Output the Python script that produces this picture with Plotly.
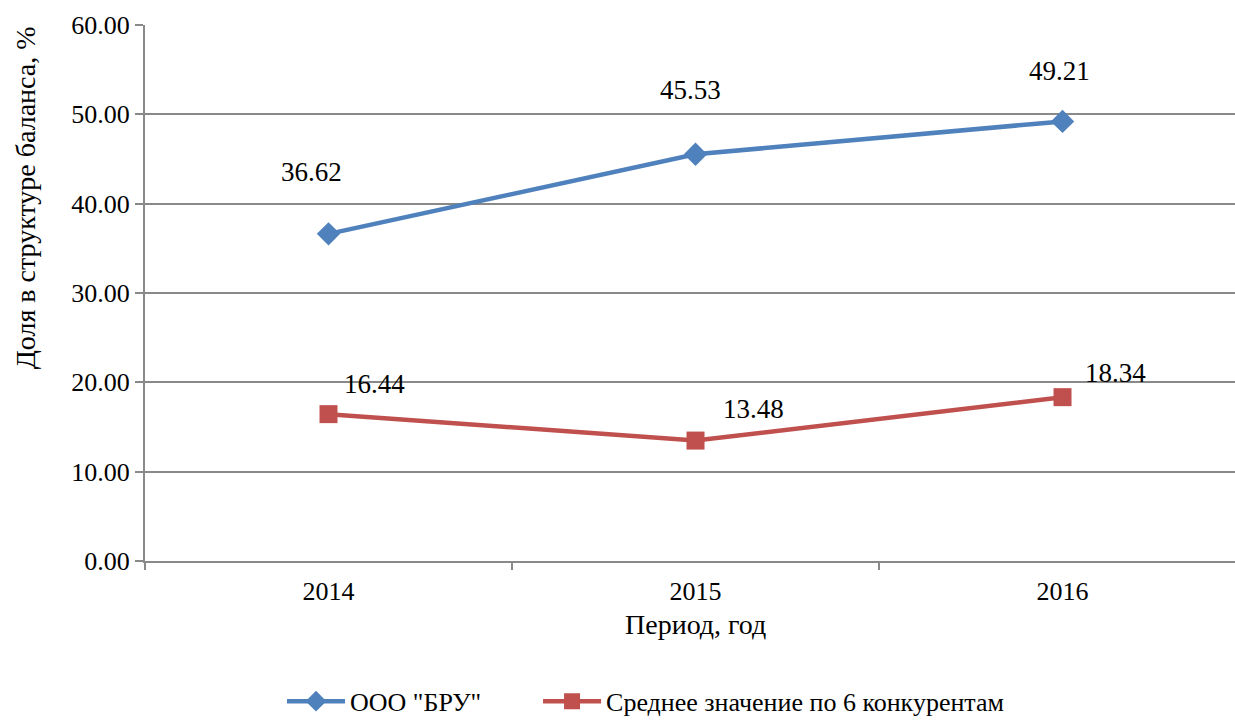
import plotly.graph_objects as go

years = ["2014", "2015", "2016"]
bru_share = [36.62, 45.53, 49.21]
competitors_avg = [16.44, 13.48, 18.34]

series_names = ['ООО "БРУ"', "Среднее значение по 6 конкурентам"]
blue = "#4F81BD"
red = "#C0504D"
grid = "#898989"
font_family = "'Liberation Serif', 'DejaVu Serif', serif"
tick_fs = 26
label_fs = 27
title_fs = 28
legend_fs = 26

fig = go.Figure()
fig.add_trace(go.Scatter(
    x=years, y=bru_share, name=series_names[0], mode="lines+markers",
    line=dict(color=blue, width=4.5),
    marker=dict(symbol="diamond", size=18, color=blue),
    legend="legend",
))
fig.add_trace(go.Scatter(
    x=years, y=competitors_avg, name=series_names[1], mode="lines+markers",
    line=dict(color=red, width=4.5),
    marker=dict(symbol="square", size=18, color=red),
    legend="legend2",
))

# value labels placed around each point (x given as category index)
bru_offsets = [(-17, 62), (-5, 64), (-3, 50)]
avg_offsets = [(46, 30), (58, 32), (53, 24)]
for vals, offs in ((bru_share, bru_offsets), (competitors_avg, avg_offsets)):
    for i, (v, (dx, dy)) in enumerate(zip(vals, offs)):
        fig.add_annotation(
            x=i, y=v, text=f"{v:.2f}", showarrow=False,
            xshift=dx, yshift=dy, font=dict(size=label_fs, color="black", family=font_family),
        )

# axis titles
fig.add_annotation(
    xref="paper", yref="paper", x=-0.110, y=0.677, text="Доля в структуре баланса, %",
    textangle=-90, showarrow=False, xanchor="center", yanchor="middle",
    font=dict(size=title_fs, color="black", family=font_family),
)
fig.add_annotation(
    xref="paper", yref="paper", x=0.5046, y=-0.119, text="Период, год",
    showarrow=False, xanchor="center", yanchor="middle",
    font=dict(size=title_fs, color="black", family=font_family),
)

legend_common = dict(
    orientation="h", xanchor="left",
    yref="container", y=0.026, yanchor="middle",
    font=dict(size=legend_fs, color="black", family=font_family),
    itemwidth=58, bgcolor="rgba(0,0,0,0)",
)

fig.update_layout(
    width=1235, height=720,
    margin=dict(l=145, r=0, t=25, b=159),
    paper_bgcolor="white", plot_bgcolor="white",
    font=dict(family=font_family, size=tick_fs, color="black"),
    showlegend=True,
    legend=dict(x=0.1257, **legend_common),
    legend2=dict(x=0.3606, **legend_common),
    xaxis=dict(
        type="category", range=[-0.5, 2.47], automargin=False,
        tickson="boundaries", ticks="outside", ticklen=7, tickwidth=1.5, tickcolor=grid,
        showline=True, linecolor=grid, linewidth=2,
        showgrid=False, zeroline=False, ticklabelstandoff=6,
        tickfont=dict(size=tick_fs),
    ),
    yaxis=dict(
        range=[0, 60], dtick=10, tickformat=".2f", automargin=False,
        ticks="outside", ticklen=8, tickwidth=1.5, tickcolor=grid,
        showline=True, linecolor=grid, linewidth=2,
        showgrid=True, gridcolor=grid, gridwidth=1.5,
        zeroline=False, tickfont=dict(size=tick_fs),
    ),
)

fig.write_html("out.html")
